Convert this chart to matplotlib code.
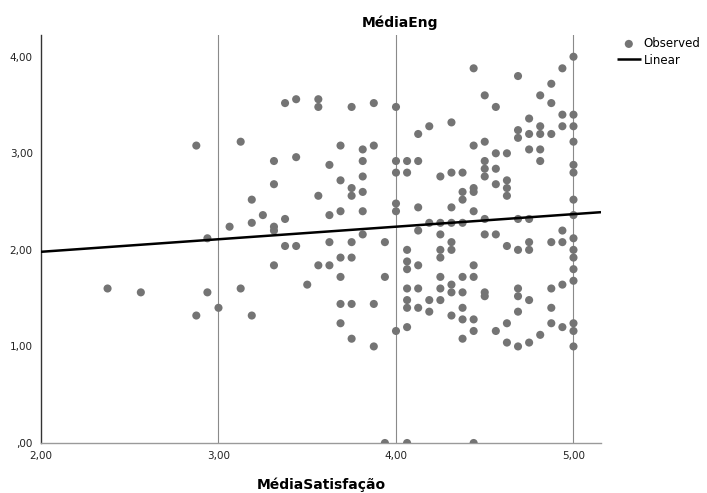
import matplotlib
matplotlib.use("Agg")
from matplotlib import pyplot as plt

# MédiaSatisfação (x), one line per column of points
media_satisfacao = [
    2.375,
    2.5625,
    2.875, 2.875,
    2.9375, 2.9375,
    3.0,
    3.0625,
    3.125, 3.125,
    3.1875, 3.1875, 3.1875,
    3.25,
    3.3125, 3.3125, 3.3125, 3.3125, 3.3125,
    3.375, 3.375, 3.375,
    3.4375, 3.4375, 3.4375,
    3.5,
    3.5625, 3.5625, 3.5625, 3.5625,
    3.625, 3.625, 3.625, 3.625,
    3.6875, 3.6875, 3.6875, 3.6875, 3.6875, 3.6875, 3.6875,
    3.75, 3.75, 3.75, 3.75, 3.75, 3.75, 3.75,
    3.8125, 3.8125, 3.8125, 3.8125, 3.8125, 3.8125,
    3.875, 3.875, 3.875, 3.875,
    3.9375, 3.9375, 3.9375,
    4.0, 4.0, 4.0, 4.0, 4.0, 4.0,
    4.0625, 4.0625, 4.0625, 4.0625, 4.0625, 4.0625, 4.0625, 4.0625, 4.0625, 4.0625,
    4.125, 4.125, 4.125, 4.125, 4.125, 4.125, 4.125,
    4.1875, 4.1875, 4.1875, 4.1875,
    4.25, 4.25, 4.25, 4.25, 4.25, 4.25, 4.25, 4.25,
    4.3125, 4.3125, 4.3125, 4.3125, 4.3125, 4.3125, 4.3125, 4.3125, 4.3125,
    4.375, 4.375, 4.375, 4.375, 4.375, 4.375, 4.375, 4.375, 4.375,
    4.4375, 4.4375, 4.4375, 4.4375, 4.4375, 4.4375, 4.4375, 4.4375, 4.4375, 4.4375,
    4.5, 4.5, 4.5, 4.5, 4.5, 4.5, 4.5, 4.5, 4.5,
    4.5625, 4.5625, 4.5625, 4.5625, 4.5625, 4.5625,
    4.625, 4.625, 4.625, 4.625, 4.625, 4.625, 4.625,
    4.6875, 4.6875, 4.6875, 4.6875, 4.6875, 4.6875, 4.6875, 4.6875, 4.6875,
    4.75, 4.75, 4.75, 4.75, 4.75, 4.75, 4.75, 4.75,
    4.8125, 4.8125, 4.8125, 4.8125, 4.8125, 4.8125,
    4.875, 4.875, 4.875, 4.875, 4.875, 4.875, 4.875,
    4.9375, 4.9375, 4.9375, 4.9375, 4.9375, 4.9375, 4.9375,
    5.0, 5.0, 5.0, 5.0, 5.0, 5.0, 5.0, 5.0, 5.0, 5.0, 5.0, 5.0, 5.0, 5.0, 5.0, 5.0,
]

# MédiaEng (y), same layout as above
media_eng = [
    1.60,
    1.56,
    3.08, 1.32,
    2.12, 1.56,
    1.40,
    2.24,
    3.12, 1.60,
    2.52, 2.28, 1.32,
    2.36,
    2.92, 2.68, 2.24, 2.20, 1.84,
    3.52, 2.32, 2.04,
    3.56, 2.96, 2.04,
    1.64,
    3.56, 3.48, 2.56, 1.84,
    2.88, 2.36, 2.08, 1.84,
    3.08, 2.72, 2.40, 1.92, 1.72, 1.44, 1.24,
    3.48, 2.64, 2.56, 2.08, 1.92, 1.44, 1.08,
    3.04, 2.92, 2.76, 2.60, 2.40, 2.16,
    3.52, 3.08, 1.44, 1.00,
    2.08, 1.72, 0.00,
    3.48, 2.92, 2.80, 2.48, 2.40, 1.16,
    2.92, 2.80, 2.00, 1.88, 1.80, 1.60, 1.48, 1.40, 1.20, 0.00,
    3.20, 2.92, 2.44, 2.20, 1.84, 1.60, 1.40,
    3.28, 2.28, 1.48, 1.36,
    2.76, 2.28, 2.16, 2.00, 1.92, 1.72, 1.60, 1.48,
    3.32, 2.80, 2.44, 2.28, 2.08, 2.00, 1.64, 1.56, 1.32,
    2.80, 2.60, 2.52, 2.28, 1.72, 1.56, 1.40, 1.28, 1.08,
    3.88, 3.08, 2.64, 2.60, 2.40, 1.84, 1.72, 1.28, 1.16, 0.00,
    3.60, 3.12, 2.92, 2.84, 2.76, 2.32, 2.16, 1.56, 1.52,
    3.48, 3.00, 2.84, 2.68, 2.16, 1.16,
    3.00, 2.72, 2.64, 2.56, 2.04, 1.24, 1.04,
    3.80, 3.24, 3.16, 2.32, 2.00, 1.60, 1.52, 1.36, 1.00,
    3.36, 3.20, 3.04, 2.32, 2.08, 2.00, 1.48, 1.04,
    3.60, 3.28, 3.20, 3.04, 2.92, 1.12,
    3.72, 3.52, 3.20, 2.08, 1.60, 1.40, 1.24,
    3.88, 3.40, 3.28, 2.20, 2.08, 1.64, 1.20,
    4.00, 3.40, 3.28, 3.12, 2.88, 2.80, 2.52, 2.36, 2.12, 2.00, 1.92, 1.80, 1.68, 1.24, 1.16, 1.00,
]

# linear fit
fit_intercept = 1.72
fit_slope = 0.13

x_ticks = [2.0, 3.0, 4.0, 5.0]
x_ticklabels = ["2,00", "3,00", "4,00", "5,00"]
y_ticks = [0.0, 1.0, 2.0, 3.0, 4.0]
y_ticklabels = [",00", "1,00", "2,00", "3,00", "4,00"]
x_range = (2.0, 5.155)
y_range = (0.0, 4.225)

W, H = 707, 493
fig = plt.figure(figsize=(W / 100, H / 100), dpi=100)
ax = fig.add_axes([41 / W, 1 - 443 / H, 560 / W, 408 / H])

ax.set_xlim(*x_range)
ax.set_ylim(*y_range)

for xv in x_ticks[1:]:
    ax.axvline(xv, color="#8a8a8a", lw=0.8, zorder=1)

ax.scatter(media_satisfacao, media_eng, s=34, color="#747474", edgecolors="none",
           zorder=3, label="Observed")
ax.plot(list(x_range), [fit_intercept + fit_slope * v for v in x_range],
        color="black", lw=1.8, zorder=4, label="Linear", solid_capstyle="butt")

ax.set_xticks(x_ticks)
ax.set_xticklabels(x_ticklabels)
ax.set_yticks(y_ticks)
ax.set_yticklabels(y_ticklabels)
ax.tick_params(axis="both", length=0, labelsize=7.5, colors="#222222")
ax.tick_params(axis="x", pad=6)
ax.tick_params(axis="y", pad=6)

for side in ("top", "right"):
    ax.spines[side].set_visible(False)
ax.spines["left"].set_color("#333333")
ax.spines["left"].set_linewidth(1.0)
ax.spines["bottom"].set_color("#9a9a9a")
ax.spines["bottom"].set_linewidth(1.0)

fig.text(400 / W, 1 - 23 / H, "MédiaEng", ha="center", va="center",
         fontsize=10, fontweight="bold")
fig.text(321 / W, 1 - 485 / H, "MédiaSatisfação", ha="center", va="center",
         fontsize=10, fontweight="bold")

ax.legend(loc="upper left", bbox_to_anchor=(617 / W, 1 - 37 / H),
          bbox_transform=fig.transFigure, frameon=False, fontsize=8.5,
          handlelength=2.0, handletextpad=0.25, labelspacing=0.3,
          borderpad=0, borderaxespad=0, scatterpoints=1)

fig.savefig("out.png", dpi=100)
